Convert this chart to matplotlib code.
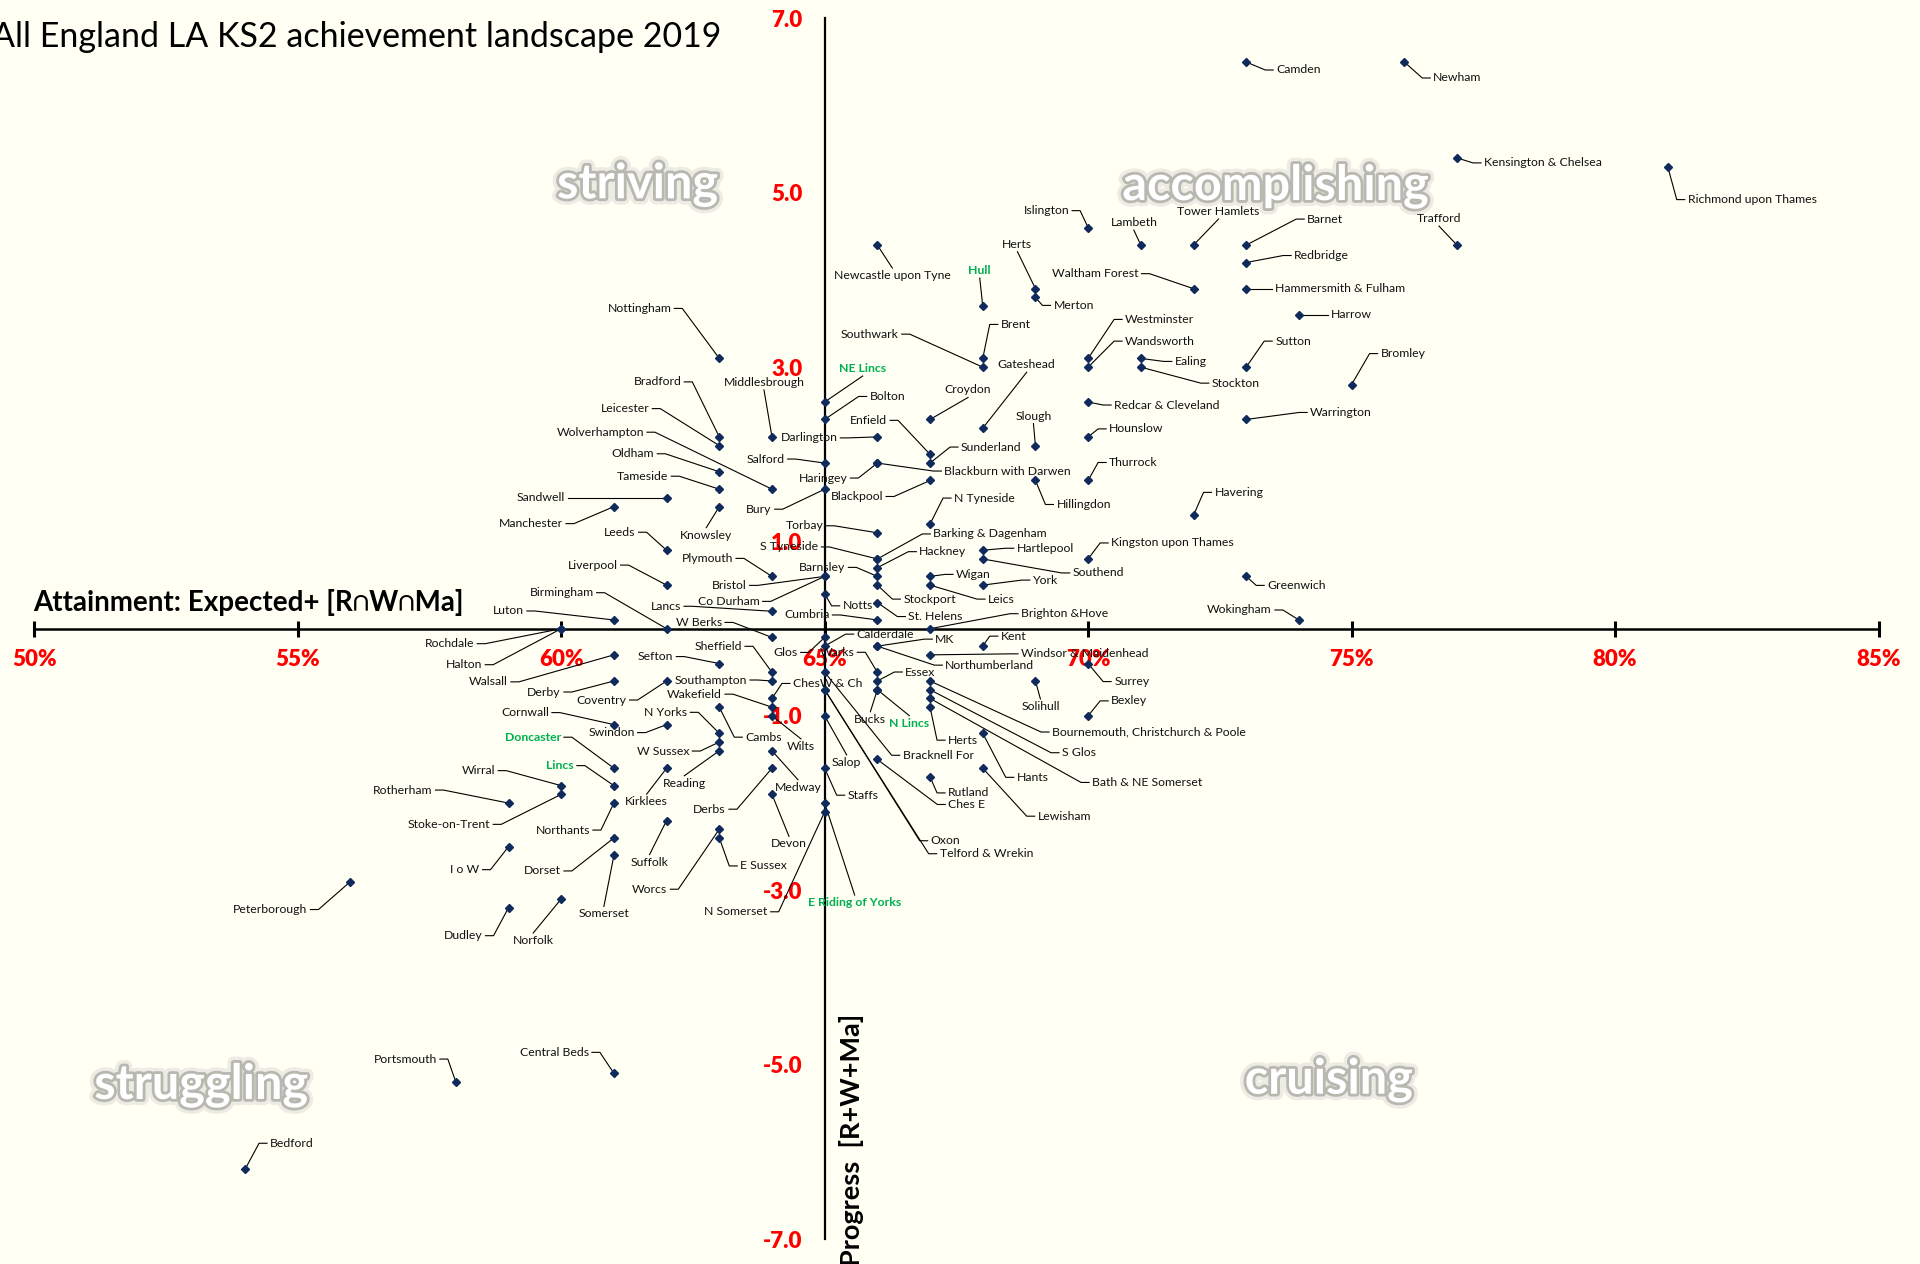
import matplotlib
matplotlib.use('Agg')
from matplotlib import pyplot as plt
import matplotlib.patheffects as pe

plt.rcParams['font.family'] = ['Lato', 'DejaVu Sans']

BG = '#FFFFF3'
NAVY = '#102A5C'
GREEN = '#00B050'

TITLE = 'All England LA KS2 achievement landscape 2019'
X_LABEL = 'Attainment: Expected+ [R\u2229W\u2229Ma]'
Y_LABEL = 'Progress  [R+W+Ma]'

# -- data: LA name, attainment (% expected+), progress (R+W+Ma) ---------------

names = [
    'Camden', 'Newham', 'Kensington & Chelsea', 'Richmond upon Thames',
    'Islington', 'Lambeth', 'Tower Hamlets', 'Barnet', 'Trafford',
    'Newcastle upon Tyne', 'Redbridge', 'Herts', 'Waltham Forest',
    'Hammersmith & Fulham', 'Merton', 'Hull', 'Harrow', 'Brent',
    'Westminster', 'Ealing', 'Southwark', 'Wandsworth', 'Stockton', 'Sutton',
    'Bromley', 'NE Lincs', 'Redcar & Cleveland', 'Bolton', 'Croydon',
    'Warrington', 'Gateshead', 'Darlington', 'Hounslow', 'Slough', 'Enfield',
    'Salford', 'Haringey', 'Blackburn with Darwen', 'Sunderland', 'Blackpool',
    'Hillingdon', 'Thurrock', 'Bury', 'Havering', 'N Tyneside', 'Torbay',
    'Hartlepool', 'S Tyneside', 'Barking & Dagenham', 'Southend',
    'Kingston upon Thames', 'Hackney', 'Bristol', 'Co Durham', 'Barnsley',
    'Wigan', 'Greenwich', 'Stockport', 'Leics', 'York', 'Notts', 'St. Helens',
    'Cumbria', 'Wokingham', 'Brighton &Hove',
    'Nottingham', 'Bradford', 'Middlesbrough', 'Leicester', 'Oldham',
    'Wolverhampton', 'Tameside', 'Sandwell', 'Manchester', 'Knowsley', 'Leeds',
    'Plymouth', 'Liverpool', 'Lancs', 'Luton', 'Birmingham', 'Rochdale',
    'Halton',
    'W Berks', 'Glos', 'Calderdale', 'Walsall', 'Sefton', 'Sheffield',
    'Bracknell For', 'Derby', 'Coventry', 'Southampton', 'Oxon',
    'Telford & Wrekin', 'ChesW & Ch', 'Cambs', 'Wakefield', 'Wilts', 'Salop',
    'Cornwall', 'Swindon', 'N Yorks', 'W Sussex', 'Reading', 'Medway',
    'Doncaster', 'Kirklees', 'Derbs', 'Staffs', 'Wirral', 'Lincs',
    'Stoke-on-Trent', 'Devon', 'Rotherham', 'Northants', 'E Riding of Yorks',
    'N Somerset', 'Suffolk', 'Worcs', 'Dorset', 'E Sussex', 'I o W',
    'Somerset', 'Peterborough', 'Norfolk', 'Dudley', 'Central Beds',
    'Portsmouth', 'Bedford',
    'MK', 'Northumberland', 'Kent', 'Windsor & Maidenhead', 'Surrey', 'Warks',
    'Essex', 'Bournemouth, Christchurch & Poole', 'Solihull', 'Bucks',
    'N Lincs', 'S Glos', 'Bath & NE Somerset', 'Herts', 'Bexley', 'Hants',
    'Ches E', 'Lewisham', 'Rutland',
]

attainment = [
    73, 76, 77, 81,
    70, 71, 72, 73, 77,
    66, 73, 69, 72,
    73, 69, 68, 74, 68,
    70, 71, 68, 70, 71, 73,
    75, 65, 70, 65, 67,
    73, 68, 66, 70, 69, 67,
    65, 66, 66, 67, 67,
    69, 70, 65, 72, 67, 66,
    68, 66, 66, 68,
    70, 66, 65, 65, 66,
    67, 73, 66, 67, 68, 65, 66,
    66, 74, 67,
    63, 63, 64, 63, 63,
    64, 63, 62, 61, 63, 62,
    64, 62, 64, 61, 62, 60,
    60,
    64, 65, 65, 61, 63, 64,
    65, 61, 62, 64, 65,
    65, 64, 63, 64, 64, 65,
    61, 62, 63, 63, 63, 64,
    61, 62, 64, 65, 60, 61,
    60, 64, 59, 61, 65,
    65, 62, 63, 61, 63, 59,
    61, 56, 60, 59, 61,
    58, 54,
    66, 66, 68, 67, 70, 66,
    66, 67, 69, 66,
    66, 67, 67, 67, 70, 68,
    66, 68, 67,
]

progress = [
    6.5, 6.5, 5.4, 5.3,
    4.6, 4.4, 4.4, 4.4, 4.4,
    4.4, 4.2, 3.9, 3.9,
    3.9, 3.8, 3.7, 3.6, 3.1,
    3.1, 3.1, 3.0, 3.0, 3.0, 3.0,
    2.8, 2.6, 2.6, 2.4, 2.4,
    2.4, 2.3, 2.2, 2.2, 2.1, 2.0,
    1.9, 1.9, 1.9, 1.9, 1.7,
    1.7, 1.7, 1.6, 1.3, 1.2, 1.1,
    0.9, 0.8, 0.8, 0.8,
    0.8, 0.7, 0.6, 0.6, 0.6,
    0.6, 0.6, 0.5, 0.5, 0.5, 0.4, 0.3,
    0.1, 0.1, 0.0,
    3.1, 2.2, 2.2, 2.1, 1.8,
    1.6, 1.6, 1.5, 1.4, 1.4, 0.9,
    0.6, 0.5, 0.2, 0.1, 0.0, 0.0,
    0.0,
    -0.1, -0.1, -0.2, -0.3, -0.4, -0.5,
    -0.5, -0.6, -0.6, -0.6, -0.7,
    -0.7, -0.8, -0.9, -0.9, -1.0, -1.0,
    -1.1, -1.1, -1.2, -1.3, -1.4, -1.4,
    -1.6, -1.6, -1.6, -1.6, -1.8, -1.8,
    -1.9, -1.9, -2.0, -2.0, -2.0,
    -2.1, -2.2, -2.3, -2.4, -2.4, -2.5,
    -2.6, -2.9, -3.1, -3.2, -5.1,
    -5.2, -6.2,
    -0.2, -0.2, -0.2, -0.3, -0.4, -0.5,
    -0.6, -0.6, -0.6, -0.7,
    -0.7, -0.7, -0.8, -0.9, -1.0, -1.2,
    -1.5, -1.6, -1.7,
]

highlight = ['Hull', 'NE Lincs', 'Doncaster', 'Lincs', 'N Lincs',
             'E Riding of Yorks']

quadrants = ['striving', 'accomplishing', 'struggling', 'cruising']

# -- label layout: side of the point and pixel offset (y down) --------------
# L = text left of point, R = right, A = above, U = under

label_pos = {
    'Camden': ('R', 30, 8), 'Newham': ('R', 29, 16),
    'Kensington & Chelsea': ('R', 27, 5),
    'Richmond upon Thames': ('R', 20, 33),
    'Islington': ('L', -19, -17), 'Lambeth': ('A', -7, -17),
    'Tower Hamlets': ('A', 25, -28), 'Barnet': ('R', 61, -26),
    'Trafford': ('A', -18, -21), 'Newcastle upon Tyne': ('U', 15, 25),
    'Redbridge': ('R', 48, -7), 'Herts': ('A', -18, -39),
    'Waltham Forest': ('L', -55, -15), 'Hammersmith & Fulham': ('R', 29, 0),
    'Merton': ('R', 18, 8), 'Hull': ('A', -3, -30), 'Harrow': ('R', 32, 0),
    'Brent': ('R', 18, -34), 'Westminster': ('R', 37, -39),
    'Ealing': ('R', 34, 3), 'Southwark': ('L', -84, -33),
    'Wandsworth': ('R', 37, -26), 'Stockton': ('R', 71, 16),
    'Sutton': ('R', 29, -26), 'Bromley': ('R', 29, -31),
    'NE Lincs': ('A', 38, -28), 'Redcar & Cleveland': ('R', 26, 3),
    'Bolton': ('R', 45, -23), 'Croydon': ('A', 38, -24),
    'Warrington': ('R', 64, -7), 'Gateshead': ('A', 44, -58),
    'Darlington': ('L', -40, 1), 'Hounslow': ('R', 21, -8),
    'Slough': ('A', -2, -24), 'Enfield': ('L', -43, -34),
    'Salford': ('L', -40, -4), 'Haringey': ('L', -30, 15),
    'Blackburn with Darwen': ('R', 67, 8), 'Sunderland': ('R', 31, -16),
    'Blackpool': ('L', -47, 16), 'Hillingdon': ('R', 21, 24),
    'Thurrock': ('R', 21, -18), 'Bury': ('L', -53, 20),
    'Havering': ('R', 21, -23), 'N Tyneside': ('R', 24, -26),
    'Torbay': ('L', -54, -7), 'Hartlepool': ('R', 34, -2),
    'S Tyneside': ('L', -59, -12), 'Barking & Dagenham': ('R', 56, -25),
    'Southend': ('R', 90, 14), 'Kingston upon Thames': ('R', 23, -16),
    'Hackney': ('R', 42, -16), 'Bristol': ('L', -78, 9),
    'Co Durham': ('L', -65, 25), 'Barnsley': ('L', -32, -9),
    'Wigan': ('R', 26, -2), 'Greenwich': ('R', 21, 9),
    'Stockport': ('R', 26, 14), 'Leics': ('R', 58, 14),
    'York': ('R', 50, -5), 'Notts': ('R', 18, 12),
    'St. Helens': ('R', 31, 14), 'Cumbria': ('L', -48, -5),
    'Wokingham': ('L', -27, -10), 'Brighton &Hove': ('R', 91, -15),
    'Nottingham': ('L', -48, -50), 'Bradford': ('L', -38, -55),
    'Middlesbrough': ('A', -8, -49), 'Leicester': ('L', -70, -37),
    'Oldham': ('L', -65, -18), 'Wolverhampton': ('L', -128, -57),
    'Tameside': ('L', -51, -13), 'Sandwell': ('L', -102, 0),
    'Manchester': ('L', -51, 17), 'Knowsley': ('U', -13, 23),
    'Leeds': ('L', -31, -18), 'Plymouth': ('L', -39, -18),
    'Liverpool': ('L', -49, -20), 'Lancs': ('L', -91, -5),
    'Luton': ('L', -90, -9), 'Birmingham': ('L', -73, -36),
    'Rochdale': ('L', -87, 15), 'Halton': ('L', -79, 36),
    'W Berks': ('L', -50, -15), 'Glos': ('L', -27, 15),
    'Calderdale': ('R', 32, -12), 'Walsall': ('L', -106, 27),
    'Sefton': ('L', -46, -7), 'Sheffield': ('L', -30, -26),
    'Bracknell For': ('R', 78, 83), 'Derby': ('L', -53, 11),
    'Coventry': ('L', -40, 19), 'Southampton': ('L', -25, -1),
    'Oxon': ('R', 106, 151), 'Telford & Wrekin': ('R', 115, 164),
    'ChesW & Ch': ('R', 21, -15), 'Cambs': ('R', 26, 30),
    'Wakefield': ('L', -50, -13), 'Wilts': ('U', 29, 25),
    'Salop': ('U', 22, 41), 'Cornwall': ('L', -65, -12),
    'Swindon': ('L', -32, 8), 'N Yorks': ('L', -32, -21),
    'W Sussex': ('L', -30, 9), 'Reading': ('U', -35, 27),
    'Medway': ('U', 26, 31), 'Doncaster': ('L', -53, -31),
    'Kirklees': ('U', -20, 28), 'Derbs': ('L', -46, 41),
    'Staffs': ('R', 23, 27), 'Wirral': ('L', -66, -15),
    'Lincs': ('L', -40, -20), 'Stoke-on-Trent': ('L', -71, 30),
    'Devon': ('U', 17, 44), 'Rotherham': ('L', -76, -13),
    'Northants': ('L', -24, 27), 'E Riding of Yorks': ('U', 30, 94),
    'N Somerset': ('L', -57, 100), 'Suffolk': ('U', -17, 36),
    'Worcs': ('L', -52, 60), 'Dorset': ('L', -53, 33),
    'E Sussex': ('R', 21, 28), 'I o W': ('L', -29, 23),
    'Somerset': ('U', -10, 53), 'Peterborough': ('L', -43, 28),
    'Norfolk': ('U', -28, 36), 'Dudley': ('L', -26, 28),
    'Central Beds': ('L', -25, -21), 'Portsmouth': ('L', -19, -23),
    'Bedford': ('R', 25, -26),
    'MK': ('R', 58, -7), 'Northumberland': ('R', 68, 19),
    'Kent': ('R', 18, -10), 'Windsor & Maidenhead': ('R', 91, -1),
    'Surrey': ('R', 26, 18), 'Warks': ('L', -23, -20),
    'Essex': ('R', 28, -9),
    'Bournemouth, Christchurch & Poole': ('R', 122, 51),
    'Solihull': ('U', 5, 20), 'Bucks': ('U', -7, 24),
    'N Lincs': ('U', 32, 28), 'S Glos': ('R', 132, 63),
    'Bath & NE Somerset': ('R', 162, 84), 'Herts#2': ('R', 18, 33),
    'Bexley': ('R', 23, -15), 'Hants': ('R', 34, 44),
    'Ches E': ('R', 71, 45), 'Lewisham': ('R', 55, 48),
    'Rutland': ('R', 18, 16),
}

quad_pos = [(61.45, 5.10), (73.56, 5.08), (53.17, -5.23), (74.57, -5.17)]

# -- figure ------------------------------------------------------------------

W, H = 1920, 1264
fig = plt.figure(figsize=(W / 100, H / 100), dpi=100, facecolor=BG)
ax = fig.add_axes([34.3 / W, 1 - 1239 / H, 1844.2 / W, 1220.6 / H])
ax.set_facecolor(BG)
ax.set_xlim(50, 85)
ax.set_ylim(-7, 7)

for s in ['top', 'right']:
    ax.spines[s].set_visible(False)
ax.spines['left'].set_position(('data', 65))
ax.spines['bottom'].set_position(('data', 0))
ax.spines['left'].set_linewidth(1.6)
ax.spines['bottom'].set_linewidth(1.8)

xt = list(range(50, 86, 5))
ax.set_xticks(xt)
ax.set_xticklabels(['%d%%' % v for v in xt])
yt = [-7, -5, -3, -1, 1, 3, 5, 7]
ax.set_yticks(yt)
ax.set_yticklabels(['%.1f' % v for v in yt])
ax.tick_params(axis='x', direction='inout', length=11, width=2.2, pad=9,
               labelsize=16, labelcolor='red')
ax.tick_params(axis='y', length=0, pad=16, labelsize=16, labelcolor='red')
for lab in ax.get_xticklabels() + ax.get_yticklabels():
    lab.set_fontweight('heavy')

# quadrant words
for word, (qx, qy) in zip(quadrants, quad_pos):
    ax.text(qx, qy, word, ha='center', va='center', fontsize=35,
            fontweight='bold', color='white', zorder=1,
            path_effects=[pe.Stroke(linewidth=9, foreground='#ececE4'),
                          pe.Stroke(linewidth=4, foreground='#b8b8b0'),
                          pe.Normal()])

# points, leader lines and labels
T = ax.transData
inv = T.inverted()
seen = set()
for name, x, y in zip(names, attainment, progress):
    key = name if name not in seen else name + '#2'
    seen.add(name)
    side, dx, dy = label_pos[key]
    px, py = T.transform((x, y))

    def pt(ox, oy):
        return inv.transform((px + ox, py - oy))

    if side == 'L':
        path = [pt(dx + 3, dy), pt(dx + 11, dy), pt(0, 0)]
        ha, va = 'right', 'center'
    elif side == 'R':
        path = [pt(dx - 3, dy), pt(dx - 11, dy), pt(0, 0)]
        ha, va = 'left', 'center'
    elif side == 'A':
        path = [pt(dx, dy + 2), pt(0, 0)]
        ha, va = 'center', 'bottom'
    else:
        path = [pt(dx, dy - 2), pt(0, 0)]
        ha, va = 'center', 'top'

    ax.plot([p[0] for p in path], [p[1] for p in path], color='black',
            lw=0.8, zorder=3, clip_on=False)
    green = name in highlight
    tx, ty = pt(dx, dy)
    ax.text(tx, ty, name, ha=ha, va=va, fontsize=8.8,
            color=GREEN if green else '#111111',
            fontweight='bold' if green else 'normal', zorder=5,
            clip_on=False)

ax.plot(attainment, progress, linestyle='none', marker='D', markersize=4.4,
        color=NAVY, zorder=4, clip_on=False)

# titles
fig.text(-8 / W, 1 - 37 / H, TITLE, ha='left', va='center', fontsize=24.5,
         color='black')
fig.text(33 / W, 1 - 602 / H, X_LABEL, ha='left', va='center', fontsize=20,
         fontweight='bold')
fig.text(851 / W, 1 - 1140 / H, Y_LABEL, ha='center', va='center',
         fontsize=19.5, fontweight='bold', rotation=90)

fig.savefig('out.png', dpi=100, facecolor=BG)
